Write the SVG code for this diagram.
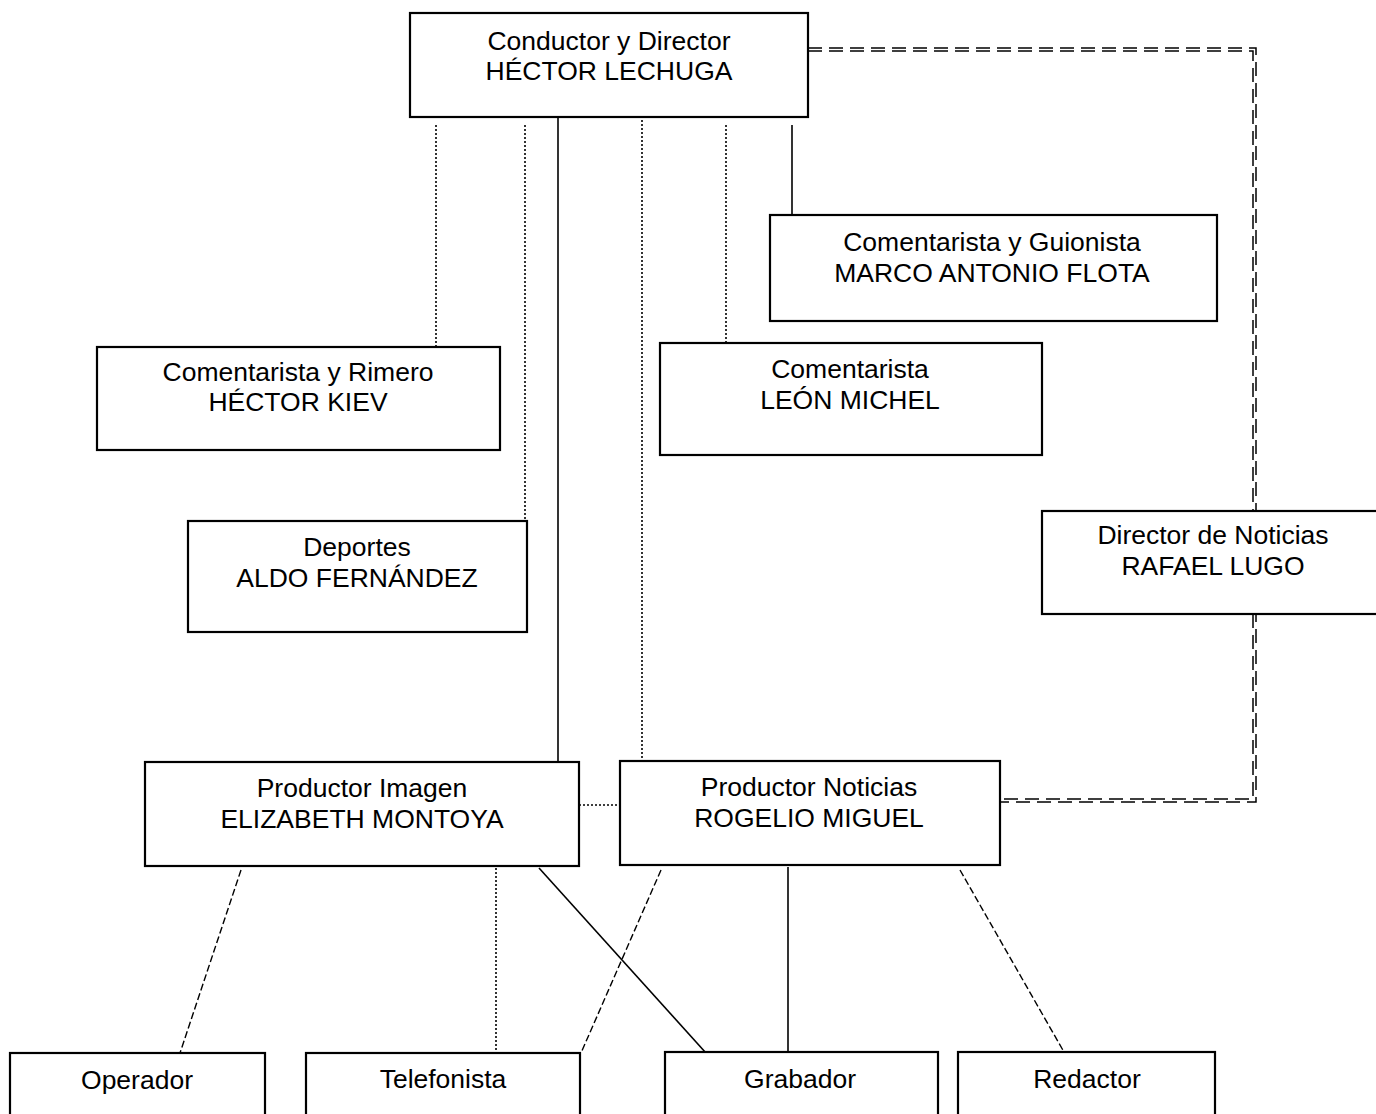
<svg xmlns="http://www.w3.org/2000/svg" width="1376" height="1114" viewBox="0 0 1376 1114">
<style>
.box{fill:#fff;stroke:#000;stroke-width:2.2}
.t{font-family:"Liberation Sans",Arial,sans-serif;font-size:26.5px;fill:#000;text-anchor:middle}
.ln{fill:none;stroke:#000;stroke-width:1.6}
.dot{fill:none;stroke:#000;stroke-width:1.6;stroke-dasharray:2 2}
.dash{fill:none;stroke:#000;stroke-width:1.4;stroke-dasharray:7 3}
.dbl{fill:none;stroke:#000;stroke-width:1.5;stroke-dasharray:14 7}
</style>
<rect width="1376" height="1114" fill="#fff"/>
<g id="connectors">
<path class="dbl" d="M808,48 H1256 V802 H1000"/>
<path class="dbl" d="M808,51 H1253 V799 H1000"/>
<line class="dot" x1="436" y1="125" x2="436" y2="347"/>
<line class="dot" x1="525" y1="125" x2="525" y2="521"/>
<line class="ln" x1="558" y1="117" x2="558" y2="762"/>
<line class="dot" x1="642" y1="120" x2="642" y2="761"/>
<line class="dot" x1="726" y1="125" x2="726" y2="343"/>
<line class="ln" x1="792" y1="125" x2="792" y2="215"/>
<line class="dot" x1="579" y1="805" x2="620" y2="805"/>
<line class="dash" x1="241" y1="870" x2="180" y2="1053"/>
<line class="dot" x1="496" y1="868" x2="496" y2="1053"/>
<line class="ln" x1="539" y1="868" x2="706" y2="1053"/>
<line class="dash" x1="661" y1="870" x2="581" y2="1053"/>
<line class="ln" x1="788" y1="867" x2="788" y2="1052"/>
<line class="dash" x1="960" y1="870" x2="1064" y2="1052"/>
</g>
<g id="n-conductor"><rect class="box" x="410" y="13" width="398" height="104"/><text class="t" x="609" y="50">Conductor y Director</text><text class="t" x="609" y="80">HÉCTOR LECHUGA</text></g>
<g id="n-flota"><rect class="box" x="770" y="215" width="447" height="106"/><text class="t" x="992" y="251">Comentarista y Guionista</text><text class="t" x="992" y="282">MARCO ANTONIO FLOTA</text></g>
<g id="n-kiev"><rect class="box" x="97" y="347" width="403" height="103"/><text class="t" x="298" y="381">Comentarista y Rimero</text><text class="t" x="298" y="411">HÉCTOR KIEV</text></g>
<g id="n-michel"><rect class="box" x="660" y="343" width="382" height="112"/><text class="t" x="850" y="378">Comentarista</text><text class="t" x="850" y="409">LEÓN MICHEL</text></g>
<g id="n-deportes"><rect class="box" x="188" y="521" width="339" height="111"/><text class="t" x="357" y="556">Deportes</text><text class="t" x="357" y="587">ALDO FERNÁNDEZ</text></g>
<g id="n-noticias"><rect class="box" x="1042" y="511" width="340" height="103"/><text class="t" x="1213" y="544">Director de Noticias</text><text class="t" x="1213" y="575">RAFAEL LUGO</text></g>
<g id="n-pimagen"><rect class="box" x="145" y="762" width="434" height="104"/><text class="t" x="362" y="797">Productor Imagen</text><text class="t" x="362" y="828">ELIZABETH MONTOYA</text></g>
<g id="n-pnoticias"><rect class="box" x="620" y="761" width="380" height="104"/><text class="t" x="809" y="796">Productor Noticias</text><text class="t" x="809" y="827">ROGELIO MIGUEL</text></g>
<g id="n-operador"><rect class="box" x="10" y="1053" width="255" height="80"/><text class="t" x="137" y="1089">Operador</text></g>
<g id="n-telefonista"><rect class="box" x="306" y="1053" width="274" height="80"/><text class="t" x="443" y="1088">Telefonista</text></g>
<g id="n-grabador"><rect class="box" x="665" y="1052" width="273" height="80"/><text class="t" x="800" y="1088">Grabador</text></g>
<g id="n-redactor"><rect class="box" x="958" y="1052" width="257" height="80"/><text class="t" x="1087" y="1088">Redactor</text></g>
</svg>
